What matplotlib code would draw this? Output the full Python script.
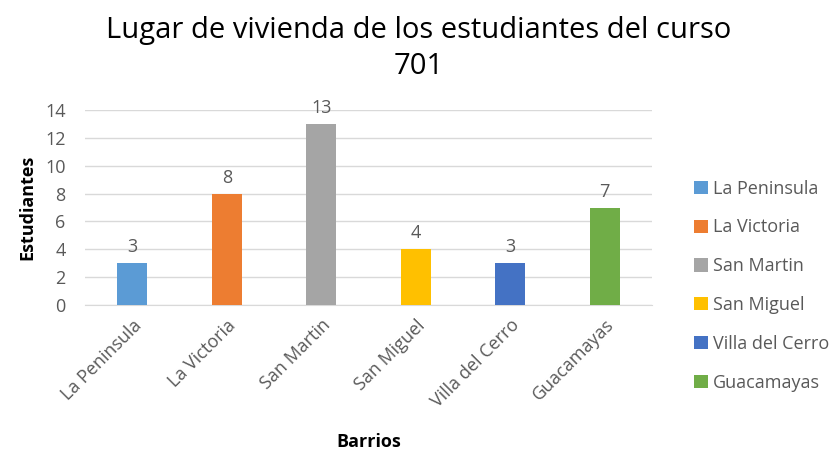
import matplotlib
matplotlib.use("Agg")
import matplotlib.pyplot as plt
from matplotlib.patches import Patch

barrios = ["La Peninsula", "La Victoria", "San Martin", "San Miguel",
           "Villa del Cerro", "Guacamayas"]
estudiantes = [3, 8, 13, 4, 3, 7]
colores = ["#5b9bd5", "#ed7d31", "#a5a5a5", "#ffc000", "#4472c4", "#70ad47"]
y_ticks = [0, 2, 4, 6, 8, 10, 12, 14]

plt.rcParams['font.family'] = ['Open Sans', 'DejaVu Sans']
gris = "#595959"

fig = plt.figure(figsize=(8.37, 4.54), dpi=100, facecolor="white")
ax = fig.add_axes([85 / 837, 1 - 305 / 454, (652 - 85) / 837, (305 - 110) / 454])

x = range(len(barrios))
bars = ax.bar(x, estudiantes, width=0.32, color=colores, zorder=3)

# etiquetas de valor sobre cada barra
for b, v in zip(bars, estudiantes):
    ax.text(b.get_x() + b.get_width() / 2, v + 0.5, str(v),
            ha="center", va="bottom", fontsize=13, color=gris)

ax.set_ylim(0, 14)
ax.set_xlim(-0.5, len(barrios) - 0.5)
ax.set_yticks(y_ticks)
ax.set_yticklabels([str(t) for t in y_ticks], fontsize=13, color=gris)
ax.set_xticks(list(x))
ax.set_xticklabels(barrios, rotation=45, ha="right", rotation_mode="anchor",
                   fontsize=13, color=gris)
ax.tick_params(axis="x", length=0, pad=8)
ax.tick_params(axis="y", length=0, pad=14)
ax.grid(axis="y", color="#d9d9d9", linewidth=1, zorder=0)
for s in ["top", "right", "left"]:
    ax.spines[s].set_visible(False)
ax.spines["bottom"].set_color("#d9d9d9")

ax.set_ylabel("Estudiantes", fontsize=13, fontweight="bold", color="black", labelpad=6)
ax.set_xlabel("Barrios", fontsize=13, fontweight="bold", color="black", labelpad=16)

fig.text(0.5, 0.965, "Lugar de vivienda de los estudiantes del curso\n701",
         ha="center", va="top", fontsize=21, color="black", linespacing=1.32)

handles = [Patch(facecolor=c, edgecolor="none") for c in colores]
leg = fig.legend(handles, barrios, loc="upper left", bbox_to_anchor=(0.81, 0.64),
                 frameon=False, fontsize=13, labelspacing=1.15,
                 handlelength=0.75, handleheight=0.75, handletextpad=0.3)
for t in leg.get_texts():
    t.set_color(gris)

fig.savefig("out.png", dpi=100, facecolor=fig.get_facecolor())
